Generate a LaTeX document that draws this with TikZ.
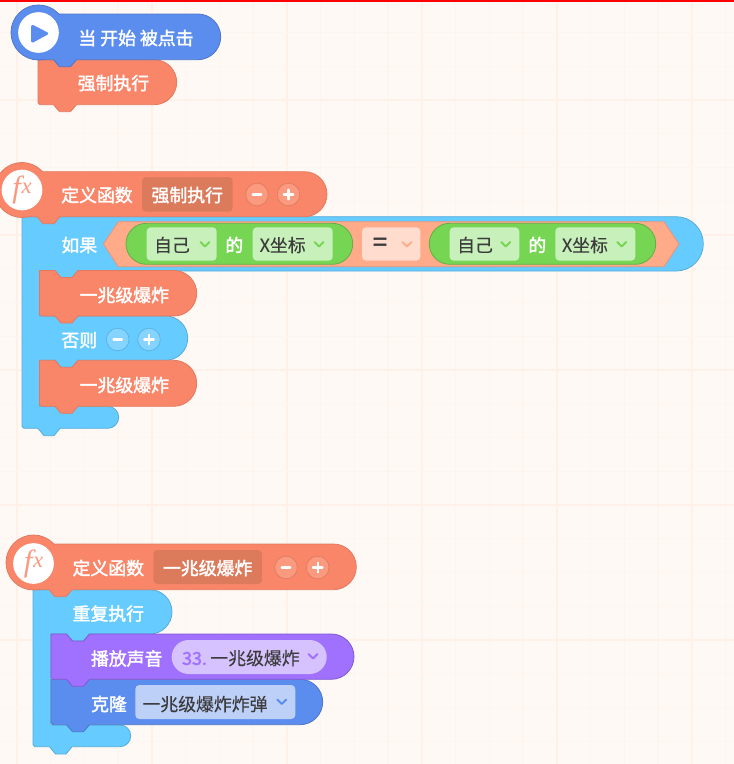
\documentclass[tikz,border=0pt]{standalone}
\usepackage{fontspec}
\newfontfamily\cjk[FakeBold=0.05]{Noto Sans CJK SC}
\newfontfamily\cjkb[FakeBold=1.9]{Noto Sans CJK SC}
\newfontfamily\fxfont[ItalicFont=Liberation Serif Italic]{Liberation Serif}
\definecolor{bgc}{HTML}{FFF9F5}
\definecolor{gridA}{HTML}{FFF5EF}
\definecolor{gridB}{HTML}{FFF0E8}
\definecolor{blueF}{HTML}{5B8DEE}
\definecolor{blueE}{HTML}{4D76C8}
\definecolor{orgF}{HTML}{FA8669}
\definecolor{orgE}{HTML}{E07A60}
\definecolor{skyF}{HTML}{66CCFF}
\definecolor{skyE}{HTML}{56ABD8}
\definecolor{purF}{HTML}{A070FF}
\definecolor{purE}{HTML}{8159CF}
\definecolor{grnF}{HTML}{76D654}
\definecolor{grnE}{HTML}{5FB044}
\definecolor{grnB}{HTML}{C8F0BA}
\definecolor{hexF}{HTML}{FFAB8A}
\definecolor{hexE}{HTML}{E8937A}
\definecolor{eqB}{HTML}{FFDCCD}
\definecolor{darkB}{HTML}{DC7A5C}
\definecolor{btnO}{HTML}{FC9A80}
\definecolor{btnOE}{HTML}{E07E64}
\definecolor{btnS}{HTML}{84D4FF}
\definecolor{btnSE}{HTML}{5BB4E4}
\definecolor{purB}{HTML}{D6C2FF}
\definecolor{bluB}{HTML}{BDD0F8}
\definecolor{txt}{HTML}{3C3C3C}
\tikzset{
  x=0.75pt, y=-0.75pt,
  lbl/.style={inner sep=0pt, text=white, font=\cjkb\fontsize{13.4}{14}\selectfont, text height=11pt, text depth=1.5pt},
  dlbl/.style={inner sep=0pt, text=txt, font=\cjk\fontsize{13.4}{14}\selectfont, text height=11pt, text depth=1.5pt},
  hatdisc/.style={circle, minimum size=41.25pt, inner sep=0pt},
  icondisc/.style={circle, fill=white, minimum size=30.5pt, inner sep=0pt},
  btnshape/.style={circle, minimum size=17pt, inner sep=0pt, line width=0.6pt},
  btnline/.style={white, line width=1.6pt, line cap=round},
  chevline/.style={line width=1.4pt, line cap=round, line join=round},
  edgeline/.style={line width=0.6pt, line join=round}
}
% fill edge x top right bottom notchx notchdepth
\newcommand{\stackblock}[8]{%
  \draw[edgeline, fill=#1, draw=#2] (#3,#4) -- (#7,#4) -- (#7+6,#4+#8) -- (#7+17,#4+#8) -- (#7+23,#4)
    [rounded corners={(#6-#4)*0.375pt}] -- (#5,#4) -- (#5,#6)
    [sharp corners] -- (#7+23,#6) -- (#7+17,#6+7) -- (#7+6,#6+7) -- (#7,#6) -- (#3+2,#6) -- (#3,#6-2) -- cycle;}
% fill edge cx top right bottom notchx name cy
\newcommand{\hatbar}[9]{%
  \draw[edgeline, fill=#1, draw=#2] (#3,#4) [rounded corners={(#6-#4)*0.375pt}] -- (#5,#4) -- (#5,#6)
    [sharp corners] -- (#7+23,#6) -- (#7+17,#6+7) -- (#7+6,#6+7) -- (#7,#6) -- (#3,#6) -- cycle;
  \node[hatdisc, edgeline, fill=#1, draw=#2] (#8) at (#3,#9) {};
  \fill[#1] (#3,#4+0.5) -- (#3+30,#4+0.5) -- (#3+30,#6-0.5) -- (#3,#6-0.5) -- cycle;
  \node[hatdisc, fill=#1, minimum size=40pt] at (#3,#9) {};}
\newcommand{\btnminus}[5]{%
  \node[btnshape, fill=#4, draw=#5] (#1) at (#2,#3) {};
  \draw[btnline] ([xshift=-3.2pt]#1.center) -- ([xshift=3.2pt]#1.center);}
\newcommand{\btnplus}[5]{%
  \node[btnshape, fill=#4, draw=#5] (#1) at (#2,#3) {};
  \draw[btnline] ([xshift=-3.6pt]#1.center) -- ([xshift=3.6pt]#1.center);
  \draw[btnline] ([yshift=-3.6pt]#1.center) -- ([yshift=3.6pt]#1.center);}
\newcommand{\chev}[3]{\draw[chevline, #3, shift={(#1,#2)}] (-4.5,-2.5) -- (0,2) -- (4.5,-2.5);}
\newcommand{\softbox}[5]{\fill[#1, rounded corners=3pt] (#2,#3) rectangle (#4,#5);}
\newcommand{\fxicon}[2]{\node[icondisc, text=orgF!85!white] (#1) at (#2) {\fxfont\fontsize{23}{23}\selectfont\itshape f\kern0.5pt\raisebox{3pt}{\fontsize{17}{17}\selectfont x}};}
\begin{document}
\begin{tikzpicture}
\useasboundingbox (0,0) rectangle (734,764);
\fill[bgc] (0,0) rectangle (734,764);
% grid
\foreach \k in {0,...,21}{
  \pgfmathsetmacro\gx{16.7+33.75*\k}
  \pgfmathtruncatemacro\mj{mod(\k,4)}
  \ifnum\mj=0 \draw[gridB, line width=1.2pt] (\gx,0) -- (\gx,764);
  \else \draw[gridA, line width=1pt] (\gx,0) -- (\gx,764); \fi
}
\foreach \k in {0,...,23}{
  \pgfmathsetmacro\gy{-1.25+33.75*\k}
  \pgfmathtruncatemacro\mj{mod(\k,4)}
  \ifnum\mj=3 \draw[gridB, line width=1.2pt] (0,\gy) -- (734,\gy);
  \else \draw[gridA, line width=1pt] (0,\gy) -- (734,\gy); \fi
}
\fill[red] (0,0) rectangle (734,2);

% ---------- group 1
\stackblock{orgF}{orgE}{38}{59.7}{176.7}{104.7}{53.5}{0}
\node[lbl] (forceA) at (113.5,83.5) {强制执行};
\hatbar{blueF}{blueE}{38.5}{14}{220.7}{59.7}{53.5}{hatA}{32.5}
\node[icondisc] (playdisc) at (38.5,32.5) {};
\fill[blueF, rounded corners=1.5pt, draw=blueF, line join=round] (31.5,24.5) -- (49,33.5) -- (31.5,43) -- cycle;
\node[lbl] (startlbl) at (136,38.5) {当 开始 被点击};

% ---------- group 2
\draw[edgeline, fill=skyF, draw=skyE] (22,216.7) [rounded corners=20.3pt] -- (703.3,216.7) -- (703.3,271)
  [sharp corners] -- (78,271) -- (72,278) -- (61,278) -- (55,271) -- (39.5,271) -- (39.5,316) [rounded corners=16.6pt] -- (187.7,316) -- (187.7,360.3)
  [sharp corners] -- (78,360.3) -- (72,367.3) -- (61,367.3) -- (55,360.3) -- (39.5,360.3) -- (39.5,406.3) [rounded corners=8.2pt] -- (118.7,406.3) -- (118.7,428.3)
  [sharp corners] -- (60,428.3) -- (54,435.7) -- (44,435.7) -- (38,428.3) -- (24,428.3) -- (22,426.3) -- cycle;
\hatbar{orgF}{orgE}{22}{171.7}{327}{216.7}{37}{hatB}{190}
\fxicon{fxB}{22,190}
\node[lbl] (defB) at (97,195.5) {定义函数};
\softbox{darkB}{142}{177}{232.7}{211.7}
\node[lbl] (nameB) at (187.3,195.5) {强制执行};
\btnminus{minusB}{257}{194.5}{btnO}{btnOE}
\btnplus{plusB}{288.5}{194.5}{btnO}{btnOE}
\node[lbl] (ifl) at (79.3,245.5) {如果};
% hexagon
\draw[edgeline, fill=hexF, draw=hexE] (103.5,244) -- (118.3,221.7) -- (664,221.7) -- (679,244) -- (664,266.7) -- (118.3,266.7) -- cycle;
% left reporter
\draw[edgeline, fill=grnF, draw=grnE, rounded corners=15.3pt] (126,223.3) rectangle (352.7,264.3);
\softbox{grnB}{146.7}{227.3}{216.7}{260.7}
\node[dlbl] (selfA) at (172,245.5) {自己};
\chev{205}{244.5}{grnF}
\node[lbl] (ofA) at (234.3,245.5) {的};
\softbox{grnB}{252.7}{227.3}{332.7}{260.7}
\node[dlbl] (xA) at (282.7,245.5) {X坐标};
\chev{319}{244.5}{grnF}
% equals
\softbox{eqB}{362}{227.3}{420.3}{260.7}
\node[inner sep=0pt, text=txt, font=\cjkb\fontsize{19}{19}\selectfont] (eqsign) at (380,244.5) {=};
\chev{407}{244.5}{hexF}
% right reporter
\draw[edgeline, fill=grnF, draw=grnE, rounded corners=15.3pt] (429.3,223.3) rectangle (655.7,264.3);
\softbox{grnB}{449.7}{227.3}{519.3}{260.7}
\node[dlbl] (selfB) at (475,245.5) {自己};
\chev{505.7}{244.5}{grnF}
\node[lbl] (ofB) at (537.3,245.5) {的};
\softbox{grnB}{555.3}{227.3}{635.3}{260.7}
\node[dlbl] (xB) at (585,245.5) {X坐标};
\chev{621.7}{244.5}{grnF}
% inner blocks
\stackblock{orgF}{orgE}{39.5}{270.5}{196.7}{316}{55}{7}
\node[lbl] (boomA) at (124.3,295.5) {一兆级爆炸};
\node[lbl] (elsel) at (79.3,340.5) {否则};
\btnminus{minusE}{117.7}{339.5}{btnS}{btnSE}
\btnplus{plusE}{149}{339.5}{btnS}{btnSE}
\stackblock{orgF}{orgE}{39.5}{360.3}{196.7}{406.3}{55}{7}
\node[lbl] (boomB) at (124.3,385.5) {一兆级爆炸};

% ---------- group 3
\draw[edgeline, fill=skyF, draw=skyE] (33,589.7) [rounded corners=16.6pt] -- (172,589.7) -- (172,634)
  [sharp corners] -- (89.5,634) -- (83.5,641) -- (72.5,641) -- (66.5,634) -- (50.7,634) -- (50.7,725) [rounded corners=8pt] -- (130.7,725) -- (130.7,746.7)
  [sharp corners] -- (72,746.7) -- (66,754) -- (55.5,754) -- (49.5,746.7) -- (35,746.7) -- (33,744.7) -- cycle;
\hatbar{orgF}{orgE}{33.5}{544}{356.3}{589.7}{49}{hatC}{562.5}
\fxicon{fxC}{33.5,563.5}
\node[lbl] (defC) at (108.3,568.5) {定义函数};
\softbox{darkB}{153.3}{550}{262}{584}
\node[lbl] (nameC) at (207.7,568.5) {一兆级爆炸};
\btnminus{minusC}{286}{567.5}{btnO}{btnOE}
\btnplus{plusC}{317.7}{567.5}{btnO}{btnOE}
\node[lbl] (repeatl) at (108.3,614) {重复执行};
% clone
\stackblock{blueF}{blueE}{51}{679.3}{322.7}{724.7}{66.5}{0}
\node[lbl] (clonel) at (109,704.5) {克隆};
\softbox{bluB}{135.3}{685}{295.3}{719}
\node[dlbl] (cloneval) at (205,704.5) {一兆级爆炸炸弹};
\chev{281.7}{702}{blueF}
% sound
\stackblock{purF}{purE}{51}{634}{354}{679.3}{66.5}{7}
\node[lbl] (soundl) at (126.7,659) {播放声音};
\draw[fill=purB, draw=none, rounded corners=12.7pt] (171.7,640) rectangle (326.7,674);
\node[inner sep=0pt, text=purF, font=\cjkb\fontsize{13.4}{14}\selectfont, text height=11pt, text depth=1.5pt] (num) at (194.5,658.5) {33.};
\node[dlbl] (soundval) at (255,658.5) {一兆级爆炸};
\chev{313}{656.5}{purF}
\end{tikzpicture}
\end{document}
